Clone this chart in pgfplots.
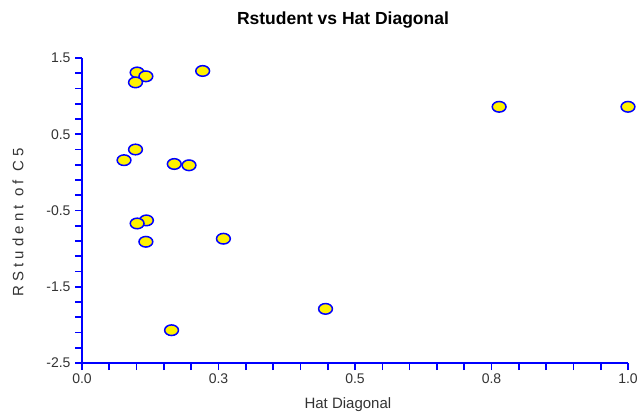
\documentclass[border=0pt]{standalone}
\usepackage{pgfplots}
\pgfplotsset{compat=1.18}
\usepackage{fontspec}
\setmainfont{Liberation Sans}
\begin{document}
\begin{tikzpicture}
\useasboundingbox (-82bp,-54bp) rectangle (557bp,363bp);
\begin{axis}[
  at={(0,0)}, anchor=south west,
  scale only axis, width=546bp, height=305bp,
  xmin=0, xmax=1, ymin=-2.5, ymax=1.5,
  axis x line=bottom, axis y line=left,
  axis line style={blue, line width=1.6bp, -},
  xtick={0,0.25,0.5,0.75,1},
  xticklabels={0.0,0.3,0.5,0.8,1.0},
  minor x tick num=4,
  ytick={-2.5,-1.5,-0.5,0.5,1.5},
  yticklabels={-2.5,-1.5,-0.5,0.5,1.5},
  minor y tick num=4,
  tick align=outside,
  major tick length=7bp, minor tick length=7bp,
  every tick/.style={blue, line width=1.6bp},
  every minor tick/.style={blue, line width=1.6bp},
  ticklabel style={font=\fontsize{14bp}{16bp}\selectfont, text=black!80},
  yticklabel style={xshift=-1bp},
  /pgf/number format/assume math mode=true,
  clip=false,
]
\addplot[only marks, mark=*, mark size=5.3bp,
  mark options={fill=yellow, draw=blue, line width=1.5bp, xscale=1.3}]
coordinates {
(0.101,1.31) (0.117,1.26) (0.098,1.18) (0.221,1.33)
(0.098,0.30) (0.077,0.16) (0.169,0.11) (0.196,0.093)
(0.118,-0.63) (0.101,-0.67) (0.117,-0.91) (0.259,-0.87)
(0.164,-2.07) (0.446,-1.79) (0.764,0.86) (1.0,0.86)
};
\node[font=\fontsize{17.5bp}{20bp}\selectfont\bfseries] at (rel axis cs:0.478,1) [yshift=38bp] {Rstudent vs Hat Diagonal};
\node[font=\fontsize{15bp}{18bp}\selectfont, text=black!80] at (rel axis cs:0.487,0) [yshift=-42bp] {Hat Diagonal};
\node[font=\fontsize{15bp}{18bp}\selectfont, text=black!80, xshift=-64bp, rotate=90] at (rel axis cs:0,0.46) {R S t u d e n t \ o f \ C 5};
\end{axis}
\end{tikzpicture}
\end{document}
